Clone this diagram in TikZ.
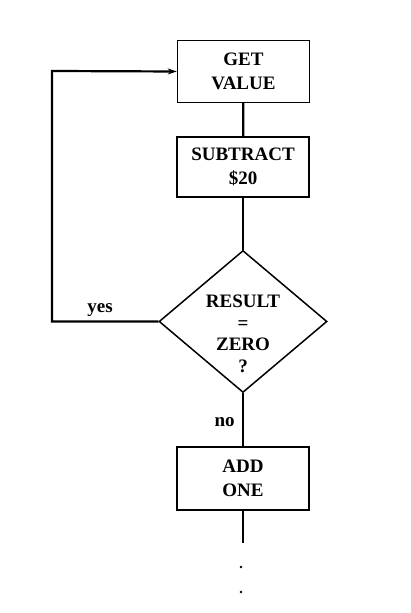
\documentclass[tikz,border=0pt]{standalone}
\usepackage{fontspec}
\setmainfont{Liberation Serif}
\usetikzlibrary{shapes.geometric,arrows.meta}
\begin{document}
\begin{tikzpicture}[x=1pt,y=1pt,
  txt/.style={font=\fontsize{19}{23.5}\selectfont\bfseries},
  box/.style={draw,line width=1.5pt,minimum width=132pt,inner sep=0pt,align=center,txt},
  conn/.style={line width=2.2pt},
  lbl/.style={txt,inner sep=0pt,anchor=base},
  dot/.style={circle,fill,inner sep=0pt,minimum size=2.6pt}]
\useasboundingbox (0,0) rectangle (410,613);
\node[box,minimum height=62pt] (get) at (243.5,541.5) {GET\\VALUE};
\node[box,minimum height=60pt] (sub) at (243,446) {SUBTRACT\\\$20};
\node[draw,line width=1.5pt,diamond,minimum width=168pt,minimum height=142pt,inner sep=0pt] (dia) at (243,291.5) {};
\node[txt,inner sep=0pt,align=center,font=\fontsize{19}{21.5}\selectfont\bfseries] (diat) at (243,279) {RESULT\\=\\ZERO\\?};
\node[box,minimum height=63pt] (add) at (243,134.5) {ADD\\ONE};
\coordinate (end) at (243,70);
\coordinate (c1) at (52,291.5);
\coordinate (c2) at (52,542);
\node[dot] (d1) at (241,46) {};
\node[dot] (d2) at (241,21) {};
\draw[conn] (get) -- (sub);
\draw[conn] (sub) -- (dia);
\draw[conn] (dia) -- (add);
\draw[conn] (add) -- (end);
\draw[conn,-{Stealth[length=9pt,width=6pt]}] (dia.west) -- (c1) -- (c2) -- (get.west);
\node[lbl] (yes) at (100,300.3) {yes};
\node[lbl] (no) at (224.7,186.3) {no};
\end{tikzpicture}
\end{document}
